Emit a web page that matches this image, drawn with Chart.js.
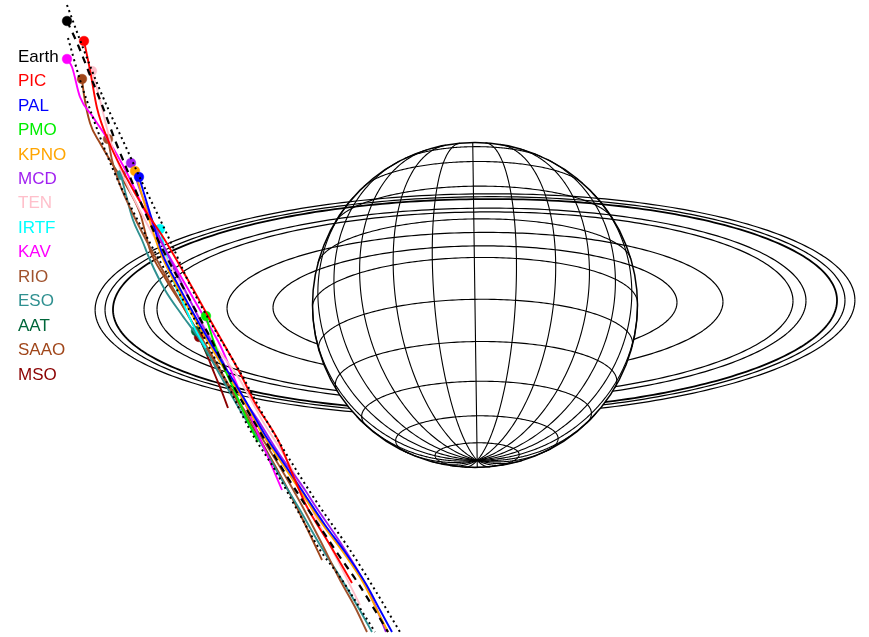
<!DOCTYPE html>
<html>
<head>
<meta charset="utf-8">
<script src="https://cdn.jsdelivr.net/npm/chart.js@4.4.1/dist/chart.umd.min.js"></script>
<style>
  html, body { margin: 0; padding: 0; background: #fff; }
  #wrap { width: 869px; height: 637px; position: relative; }
</style>
</head>
<body>
<div id="wrap"><canvas id="occChart"></canvas></div>
<script>
// plot frame (sky plane, y grows downward)
const frameX = [0, 869];
const frameY = [0, 637];

// Saturn model
const saturnCentre = [475, 305];
const saturnRadius = 162.5;
const ringTilt = 17;        // degrees, opening angle
const posAngle = 0.8;       // degrees
const ringRadii = [2.338, 2.277, 2.228, 2.037, 1.957, 1.526, 1.243];   // Saturn radii
const latitudes = [-75, -60, -45, -30, -15, 0, 15, 30, 45, 60, 75];
const longitudes = [0, 15, 30, 45, 60, 75, 90, 105, 120, 135, 150, 165,
                    180, 195, 210, 225, 240, 255, 270, 285, 300, 315, 330, 345];

// stations
const stations = ['Earth', 'PIC', 'PAL', 'PMO', 'KPNO', 'MCD', 'TEN', 'IRTF', 'KAV', 'RIO', 'ESO', 'AAT', 'SAAO', 'MSO'];
const stationColors = ['#000000', '#ff0000', '#0000ff', '#00ee00', '#ffa500', '#a020f0', '#ffc0cb',
                       '#00ffff', '#ff00ff', '#a0522d', '#2f9090', '#00663a', '#a0461a', '#8b0000'];

// tracks, [x, y] in plot units, first point = start
const trackEarth = [[67,21],[78,45],[90,75],[102,105],[115,140],[128,172],[144,210],[162,248],[190,300],[213,343],[233,385],[256,425],[280,465],[304,503],[322,530],[340,557],[358,583],[376,612],[388,632]];
const limitWest = [[68,38],[80,80],[92,115],[105,150],[120,185],[135,215],[150,243],[165,270],[195,320],[222,373],[250,430],[275,470],[300,515],[320,550],[340,577],[358,605],[375,632]];
const limitEast = [[67,5],[80,40],[97,83],[110,113],[125,145],[140,178],[157,213],[172,245],[190,285],[215,330],[240,372],[265,418],[290,460],[320,507],[350,550],[375,590],[400,632]];
const trackPIC = [[84,41],[90,70],[97,108],[108,140],[125,175],[145,210],[163,237],[188,280],[213,325],[240,373],[255,403],[278,440],[295,480],[306,505],[330,545],[352,583]];
const trackPAL = [[139,177],[146,200],[153,223],[162,253],[178,285],[200,325],[222,362],[245,400],[265,435],[285,465],[305,495],[325,525],[345,552],[366,584],[380,610],[392,632]];
const trackPMO = [[206,316],[210,330],[215,345],[225,370],[235,392],[245,415],[252,430],[258,442]];
const trackKPNO = [[135,171],[142,195],[150,222],[160,252],[176,285],[198,325],[220,362],[243,400],[263,435],[283,465],[303,495],[323,525],[343,552],[364,584],[377,610],[388,632]];
const trackMCD = [[131,163],[140,190],[152,220],[168,255],[185,290],[205,330],[222,360],[233,383],[258,420],[280,455],[303,487],[316,507],[340,542],[362,578],[375,605],[386,632]];
const trackTEN = [[92,71],[100,100],[110,140],[125,180],[145,220],[170,265],[195,310],[215,345],[240,380],[262,420],[287,460],[305,495],[322,530],[340,565],[360,605]];
const trackIRTF = [[160,229],[165,250],[172,277],[182,300],[193,325],[200,338],[206,348]];
const trackKAV = [[67,59],[72,67],[80,97],[93,117],[110,143],[127,173],[143,207],[160,240],[180,275],[200,310],[220,345],[235,380],[250,415],[265,450],[282,490]];
const trackRIO = [[108,139],[112,160],[120,185],[132,212],[145,238],[158,262],[175,292],[192,322],[210,352],[230,387],[255,427],[280,467],[300,502],[320,540],[340,580],[355,607],[367,632]];
const trackESO = [[121,175],[126,195],[133,220],[142,240],[150,260],[165,290],[182,315],[200,340],[220,375],[240,410],[262,445],[282,480],[300,510],[320,545],[342,580],[358,607],[372,632]];
const trackAAT = [[196,331],[202,343],[208,356]];
const trackSAAO = [[82,79],[84,95],[90,123],[100,143],[113,165],[127,187],[140,213],[150,250],[165,278],[185,310],[205,345],[225,380],[245,414],[265,448],[285,484],[303,520],[322,560]];
const trackMSO = [[199,337],[207,355],[215,375],[222,392],[228,408]];

const tracks = [trackEarth, trackPIC, trackPAL, trackPMO, trackKPNO, trackMCD, trackTEN,
                trackIRTF, trackKAV, trackRIO, trackESO, trackAAT, trackSAAO, trackMSO];

const toXY = arr => arr.map(p => ({ x: p[0], y: p[1] }));
const startDot = c => (c.dataIndex === 0 ? 4.8 : 0);

const datasets = [];
// limits of the shadow path
[limitWest, limitEast].forEach(l => datasets.push({
    label: '', data: toXY(l), showLine: true, borderColor: '#000', borderWidth: 2,
    borderDash: [2, 3.5], pointRadius: 0, cubicInterpolationMode: 'monotone'
}));
tracks.forEach((t, i) => datasets.push({
    label: stations[i],
    data: toXY(t),
    showLine: true,
    borderColor: stationColors[i],
    backgroundColor: stationColors[i],
    borderWidth: i === 0 ? 2.2 : 1.9,
    borderDash: i === 0 ? [7, 6] : [],
    pointRadius: startDot,
    pointBorderWidth: 0.5,
    pointHoverRadius: 0,
    cubicInterpolationMode: 'monotone'
}));

// Saturn globe and rings, drawn through the chart scales
const saturnPlugin = {
    id: 'saturn',
    beforeDatasetsDraw(chart) {
        const { ctx, scales: { x, y } } = chart;
        const cx = x.getPixelForValue(saturnCentre[0]);
        const cy = y.getPixelForValue(saturnCentre[1]);
        const k = x.getPixelForValue(saturnCentre[0] + saturnRadius) - cx;
        const rad = Math.PI / 180;
        const B = ringTilt * rad, th = posAngle * rad;
        const sB = Math.sin(B), cB = Math.cos(B), tB = Math.tan(B);
        const toPx = (X, Y) => [cx + k * (X * Math.cos(th) - Y * Math.sin(th)),
                                cy - k * (X * Math.sin(th) + Y * Math.cos(th))];
        const curve = (f, t0, t1, n = 160) => {
            ctx.beginPath();
            for (let i = 0; i <= n; i++) {
                const [px, py] = toPx(...f(t0 + (t1 - t0) * i / n));
                i ? ctx.lineTo(px, py) : ctx.moveTo(px, py);
            }
            ctx.stroke();
        };
        const ring = r => a => [r * Math.cos(a), r * sB * Math.sin(a)];

        ctx.save();
        ctx.strokeStyle = '#000';
        ctx.lineJoin = 'round';

        // near half of the rings, in front of the globe
        ringRadii.forEach((r, i) => {
            ctx.lineWidth = i === 2 ? 1.8 : 1.2;
            curve(ring(r), 0, Math.PI);
        });
        // far half, hidden behind the globe
        ctx.save();
        ctx.beginPath();
        ctx.rect(0, 0, chart.width, chart.height);
        ctx.arc(cx, cy, k, 0, 2 * Math.PI);
        ctx.clip('evenodd');
        ringRadii.forEach((r, i) => {
            ctx.lineWidth = i === 2 ? 1.8 : 1.2;
            curve(ring(r), Math.PI, 2 * Math.PI);
        });
        ctx.restore();

        // limb
        ctx.lineWidth = 1.5;
        ctx.beginPath();
        ctx.arc(cx, cy, k, 0, 2 * Math.PI);
        ctx.stroke();

        ctx.lineWidth = 1.1;
        // parallels, visible part only
        latitudes.forEach(d => {
            const p = d * rad;
            const s = Math.tan(p) * tB;
            if (s >= 1) return;
            const l0 = Math.asin(Math.max(-1, s));
            curve(l => [Math.cos(p) * Math.cos(l), Math.sin(p) * cB + Math.cos(p) * sB * Math.sin(l)],
                  l0, Math.PI - l0);
        });
        // meridians, from the south pole up to the limb
        longitudes.forEach(d => {
            const l = d * rad;
            const pMax = Math.atan(Math.sin(l) / tB);
            curve(p => [Math.cos(p) * Math.cos(l), Math.cos(p) * Math.sin(l) * sB + Math.sin(p) * cB],
                  -Math.PI / 2, pMax);
        });
        ctx.restore();
    }
};

// station names, coloured like their tracks
const namesPlugin = {
    id: 'names',
    afterDatasetsDraw(chart) {
        const { ctx, chartArea } = chart;
        ctx.save();
        ctx.font = '17px "Liberation Sans", Arial, sans-serif';
        ctx.textBaseline = 'alphabetic';
        stations.forEach((s, i) => {
            ctx.fillStyle = stationColors[i];
            ctx.fillText(s, chartArea.left + 18, chartArea.top + 61.7 + i * 24.45);
        });
        ctx.restore();
    }
};

new Chart(document.getElementById('occChart').getContext('2d'), {
    type: 'scatter',
    data: { datasets },
    options: {
        responsive: true,
        maintainAspectRatio: false,
        animation: false,
        layout: { padding: 0, autoPadding: false },
        plugins: { legend: { display: false }, tooltip: { enabled: false } },
        scales: {
            x: { type: 'linear', min: frameX[0], max: frameX[1], display: false },
            y: { type: 'linear', min: frameY[0], max: frameY[1], reverse: true, display: false }
        }
    },
    plugins: [saturnPlugin, namesPlugin]
});
</script>
</body>
</html>
